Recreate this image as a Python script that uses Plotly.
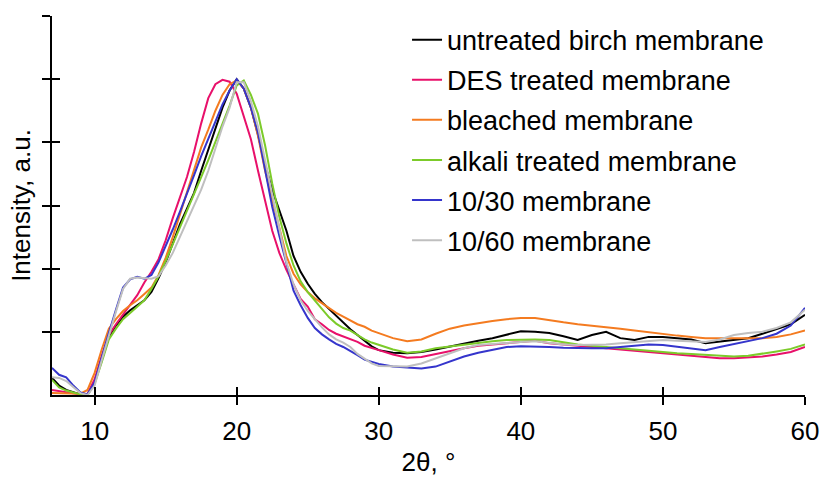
import plotly.graph_objects as go

two_theta = [7, 7.5, 8, 8.5, 9, 9.5, 10, 10.5, 11, 11.5, 12, 12.5, 13, 13.5, 14, 14.5,
             15, 15.5, 16, 16.5, 17, 17.5, 18, 18.5, 19, 19.5, 20, 20.5, 21, 21.5, 22,
             22.5, 23, 23.5, 24, 24.5, 25, 25.5, 26, 26.5, 27, 27.5, 28, 28.5, 29, 29.5,
             30, 31, 32, 33, 34, 35, 36, 37, 38, 39, 40, 41, 42, 43, 44, 45, 46, 47, 48,
             49, 50, 51, 52, 53, 54, 55, 56, 57, 58, 59, 60]

untreated = [0.27, 0.15, 0.08, 0.04, 0.01, 0.0, 0.2, 0.55, 0.92, 1.1, 1.24, 1.34, 1.42, 1.5, 1.63, 1.85,
             2.1, 2.4, 2.7, 2.95, 3.2, 3.55, 3.88, 4.22, 4.55, 4.82, 5.0, 4.85, 4.55, 4.12, 3.65,
             3.25, 2.92, 2.6, 2.2, 1.95, 1.76, 1.6, 1.47, 1.36, 1.25, 1.14, 1.04, 0.95, 0.86, 0.77,
             0.71, 0.67, 0.66, 0.68, 0.72, 0.77, 0.82, 0.86, 0.9, 0.95, 1.01, 1.0, 0.98, 0.93, 0.87,
             0.95, 1.0, 0.9, 0.87, 0.92, 0.92, 0.9, 0.88, 0.82, 0.85, 0.87, 0.9, 0.97, 1.05, 1.12, 1.27]

des = [0.08, 0.06, 0.04, 0.02, 0.01, 0.02, 0.25, 0.62, 0.95, 1.12, 1.27, 1.42, 1.58, 1.78, 1.95, 2.15,
       2.45, 2.8, 3.12, 3.45, 3.85, 4.3, 4.7, 4.92, 4.99, 4.96, 4.77, 4.42, 4.05, 3.55, 3.05,
       2.6, 2.25, 1.98, 1.75, 1.52, 1.4, 1.2, 1.12, 1.03, 0.97, 0.93, 0.88, 0.84, 0.78, 0.74,
       0.71, 0.64, 0.59, 0.6, 0.65, 0.7, 0.74, 0.78, 0.8, 0.82, 0.84, 0.86, 0.82, 0.8, 0.78,
       0.76, 0.74, 0.72, 0.7, 0.68, 0.66, 0.64, 0.62, 0.6, 0.58, 0.58, 0.59, 0.61, 0.64, 0.68, 0.76]

bleached = [0.03, 0.03, 0.02, 0.02, 0.02, 0.08, 0.35, 0.72, 1.05, 1.2, 1.33, 1.42, 1.5, 1.6, 1.7, 1.9,
            2.17, 2.5, 2.85, 3.2, 3.58, 3.92, 4.2, 4.5, 4.75, 4.92, 4.98, 4.85, 4.55, 4.1, 3.55,
            3.08, 2.65, 2.2, 1.92, 1.75, 1.63, 1.53, 1.45, 1.38, 1.3, 1.24, 1.18, 1.12, 1.08, 1.02,
            0.98, 0.9, 0.85, 0.88, 0.97, 1.05, 1.1, 1.14, 1.17, 1.2, 1.22, 1.22, 1.18, 1.15, 1.12,
            1.1, 1.08, 1.05, 1.02, 0.99, 0.96, 0.94, 0.92, 0.9, 0.9, 0.9, 0.9, 0.9, 0.92, 0.96, 1.02]

alkali = [0.24, 0.12, 0.07, 0.04, 0.01, 0.0, 0.18, 0.52, 0.88, 1.05, 1.2, 1.3, 1.4, 1.5, 1.68, 1.88,
          2.12, 2.38, 2.65, 2.9, 3.17, 3.45, 3.72, 4.0, 4.3, 4.58, 4.9, 4.98, 4.75, 4.45, 3.95,
          3.35, 2.82, 2.4, 2.05, 1.8, 1.63, 1.5, 1.36, 1.23, 1.13, 1.06, 1.02, 0.95, 0.88, 0.83,
          0.79, 0.72, 0.67, 0.69, 0.74, 0.77, 0.8, 0.83, 0.85, 0.87, 0.88, 0.88, 0.87, 0.83, 0.8,
          0.78, 0.76, 0.74, 0.71, 0.69, 0.67, 0.66, 0.65, 0.64, 0.62, 0.61, 0.62, 0.65, 0.69, 0.73, 0.8]

m10_30 = [0.43, 0.32, 0.28, 0.15, 0.04, 0.01, 0.2, 0.6, 0.98, 1.35, 1.7, 1.83, 1.87, 1.84, 1.9, 2.1,
          2.35, 2.62, 2.9, 3.18, 3.48, 3.78, 4.05, 4.35, 4.6, 4.82, 5.0, 4.85, 4.55, 4.15, 3.55,
          2.98, 2.52, 2.1, 1.65, 1.42, 1.22, 1.06, 0.96, 0.88, 0.81, 0.76, 0.7, 0.63, 0.56, 0.52,
          0.49, 0.45, 0.43, 0.42, 0.45, 0.53, 0.61, 0.67, 0.72, 0.76, 0.77, 0.77, 0.76, 0.75, 0.74,
          0.74, 0.74, 0.76, 0.78, 0.8, 0.79, 0.76, 0.73, 0.71, 0.76, 0.81, 0.85, 0.9, 0.97, 1.1, 1.38]

m10_60 = [0.28, 0.27, 0.22, 0.12, 0.03, 0.0, 0.15, 0.55, 0.95, 1.32, 1.68, 1.84, 1.86, 1.85, 1.84, 1.88,
          2.05, 2.25, 2.5, 2.75, 3.0, 3.25, 3.55, 3.9, 4.25, 4.55, 4.95, 4.95, 4.65, 4.25, 3.7,
          3.15, 2.6, 2.1, 1.75, 1.5, 1.33, 1.2, 1.07, 0.96, 0.88, 0.83, 0.76, 0.65, 0.58, 0.5,
          0.46, 0.45, 0.45, 0.5, 0.58, 0.66, 0.74, 0.79, 0.81, 0.83, 0.84, 0.85, 0.82, 0.8, 0.79,
          0.79, 0.8, 0.82, 0.84, 0.86, 0.87, 0.86, 0.85, 0.84, 0.88, 0.95, 0.98, 1.0, 1.06, 1.15, 1.35]

series_names = ["untreated birch membrane", "DES treated membrane", "bleached membrane",
                "alkali treated membrane", "10/30 membrane", "10/60 membrane"]
series_values = [untreated, des, bleached, alkali, m10_30, m10_60]
series_colors = ["#000000", "#E8106A", "#F47B20", "#7CCB2A", "#3535CC", "#BFBFBF"]

x_ticks = [10, 20, 30, 40, 50, 60]
y_ticks = [1, 2, 3, 4, 5, 6]

FONT = "Liberation Sans, Arial, sans-serif"

fig = go.Figure()
for name, vals, col in zip(series_names, series_values, series_colors):
    fig.add_trace(go.Scatter(x=two_theta, y=vals, mode="lines", name=name,
                             legendgroup=name,
                             line=dict(color=col, width=2)))

# invisible trace on overlay axes so inner ticks are drawn
fig.add_trace(go.Scatter(x=[7, 60], y=[0, 6], xaxis="x2", yaxis="y2", mode="markers",
                         marker=dict(opacity=0), showlegend=False, hoverinfo="skip"))

axis_common = dict(showgrid=False, zeroline=False, showline=True, linecolor="black",
                   linewidth=1.5, tickcolor="black", tickwidth=1.5, ticklen=8,
                   automargin=False)

fig.update_layout(
    width=822, height=477,
    margin=dict(l=52, r=17, t=16, b=82),
    paper_bgcolor="white", plot_bgcolor="white",
    font=dict(family=FONT, size=26, color="black"),
    xaxis=dict(range=[7, 60], tickvals=x_ticks, ticks="outside", ticklabelstandoff=4,
               tickfont=dict(size=26), title=dict(text="2θ, °", font=dict(size=26), standoff=14),
               **axis_common),
    yaxis=dict(range=[0, 6], tickvals=y_ticks, ticks="outside", showticklabels=False,
               title=dict(text="Intensity, a.u.", font=dict(size=26), standoff=4),
               **axis_common),
    xaxis2=dict(range=[7, 60], tickvals=x_ticks, ticks="inside", showticklabels=False,
                overlaying="x", anchor="y", **axis_common),
    yaxis2=dict(range=[0, 6], tickvals=y_ticks, ticks="inside", showticklabels=False,
                overlaying="y", anchor="x", **axis_common),
    legend=dict(x=0.4715, y=1.001, xanchor="left", yanchor="top",
                font=dict(size=27), bgcolor="rgba(0,0,0,0)",
                traceorder="grouped", tracegroupgap=2, itemwidth=30, maxheight=450),
    showlegend=True,
)

fig.write_html("out.html")
